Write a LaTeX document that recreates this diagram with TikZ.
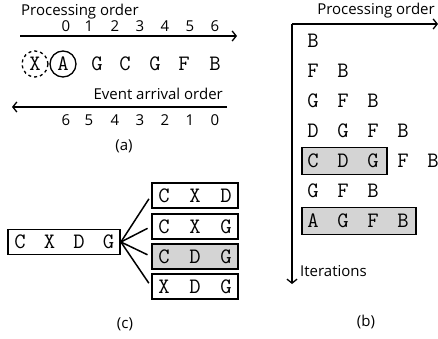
\documentclass[tikz,border=0pt]{standalone}
\usepackage{fontspec}
\setsansfont{Open Sans}
\usetikzlibrary{arrows.meta}
\definecolor{boxgray}{RGB}{212,212,212}
\tikzset{
  lab/.style={font=\sffamily\fontsize{15}{15}\selectfont, inner sep=0pt},
  ltr/.style={font=\ttfamily\fontsize{22}{22}\selectfont, inner sep=0pt},
  arr/.style={line width=1.5pt, -{Straight Barb[length=4pt,width=10pt,line width=1.3pt]}},
  seqbox/.style={draw, line width=1.8pt, rectangle, inner sep=0pt},
  hl/.style={seqbox, fill=boxgray},
  ring/.style={draw, circle, line width=1.3pt, minimum size=26pt, inner sep=0pt},
  fan/.style={line width=1.5pt, shorten >=4pt},
}
\begin{document}
\begin{tikzpicture}[x=1pt,y=-1pt]
\useasboundingbox (0,0) rectangle (438,339);

% ---------- (a) processing and arrival order ----------
\node[lab, anchor=west] (poA) at (21,12) {Processing order};
\foreach \n/\x in {0/66,1/89,2/115,3/140,4/165,5/190,6/215}
  \node[lab] (pn\n) at (\x,26) {\n};
\coordinate (pa1) at (20,36);
\coordinate (pa2) at (237,36);
\draw[arr] (pa1) -- (pa2);

\node[ltr, ring, dashed] (sx) at (35,64) {X};
\node[ltr, ring] (sa) at (63,64) {A};
\node[ltr] (s2) at (97,64) {G};
\node[ltr] (s3) at (125,64) {C};
\node[ltr] (s4) at (155,64) {G};
\node[ltr] (s5) at (184,64) {F};
\node[ltr] (s6) at (215,64) {B};

\node[lab, anchor=east] (eao) at (223,94) {Event arrival order};
\coordinate (ea1) at (227,107);
\coordinate (ea2) at (12,107);
\draw[arr] (ea1) -- (ea2);
\foreach \n/\x in {6/66,5/89,4/115,3/140,2/165,1/190,0/215}
  \node[lab] (en\n) at (\x,120) {\n};
\node[lab] (capa) at (124,146) {(a)};

% ---------- (b) iterations ----------
\node[lab] (poB) at (376,11) {Processing order};
\coordinate (org) at (292,24);
\coordinate (xend) at (438,24);
\coordinate (yend) at (292,284);
\draw[arr] (org) -- (xend);
\draw[arr] (org) -- (yend);
\node[lab, anchor=west] (itr) at (300,271) {Iterations};

\node[hl, minimum width=85pt, minimum height=27pt] (hb1) at (344.5,161) {};
\node[hl, minimum width=114pt, minimum height=27pt] (hb2) at (359,221) {};

\foreach \r/\row in {0/{B}, 1/{F,B}, 2/{G,F,B}, 3/{D,G,F,B}, 4/{C,D,G,F,B}, 5/{G,F,B}, 6/{A,G,F,B}}{
  \foreach \c [count=\k from 0] in \row
    \node[ltr] (b\r-\k) at (313+30*\k, 41+30*\r) {\c};
}
\node[lab] (capb) at (366,322) {(b)};

% ---------- (c) candidate subsequences ----------
\node[seqbox, minimum width=112pt, minimum height=25pt] (cx) at (64,242) {};
\foreach \c [count=\k from 0] in {C,X,D,G}
  \node[ltr] (cl\k) at (20+29.5*\k,242) {\c};

\node[seqbox, minimum width=86pt, minimum height=25pt] (r1) at (195,195.5) {};
\node[seqbox, minimum width=86pt, minimum height=25pt] (r2) at (195,226.5) {};
\node[hl, minimum width=86pt, minimum height=25pt] (r3) at (195,256.5) {};
\node[seqbox, minimum width=86pt, minimum height=25pt] (r4) at (195,286.5) {};
\foreach \i/\row in {1/{C,X,D}, 2/{C,X,G}, 3/{C,D,G}, 4/{X,D,G}}{
  \foreach \c [count=\k from 0] in \row
    \node[ltr] (r\i-\k) at ([xshift=-31pt+31*\k pt]r\i.center) {\c};
}
\foreach \i in {1,2,3,4}
  \draw[fan] (cx.east) -- (r\i.west);
\node[lab] (capc) at (125,324) {(c)};
\end{tikzpicture}
\end{document}
